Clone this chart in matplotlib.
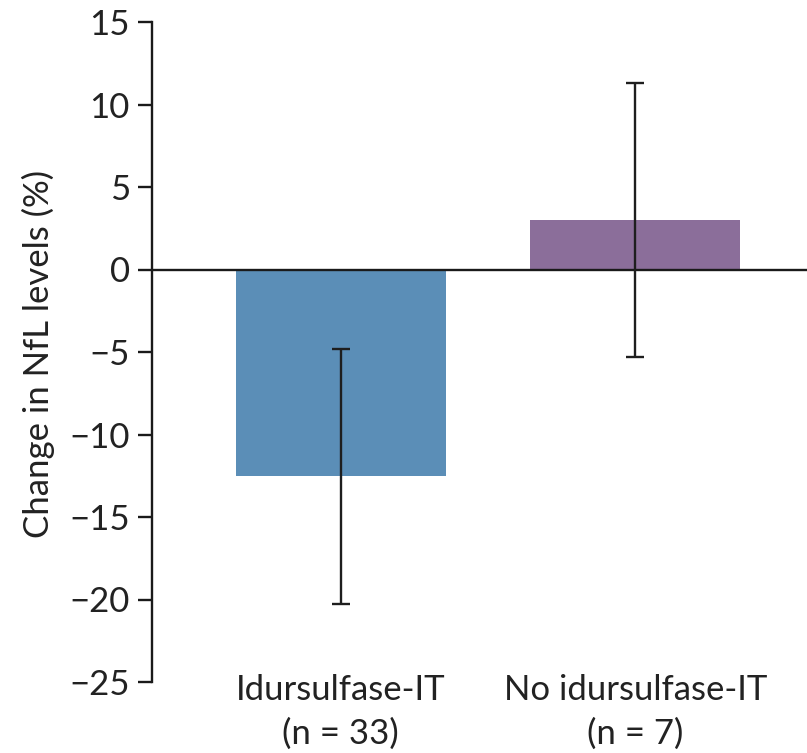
import matplotlib
matplotlib.use("Agg")
import matplotlib.pyplot as plt

# group means and interval bounds, % change in NfL
groups = ["Idursulfase-IT\n(n = 33)", "No idursulfase-IT\n(n = 7)"]
mean_change = [-12.5, 3.0]
ci_low = [-20.3, -5.3]
ci_high = [-4.8, 11.3]
bar_colors = ["#5B8EB7", "#8B6E9A"]
yticks = [15, 10, 5, 0, -5, -10, -15, -20, -25]

plt.rcParams["font.family"] = ["Lato", "DejaVu Sans"]
FS = 25
TXT = "#222222"

fig = plt.figure(figsize=(8.07, 7.53), dpi=100)
ax = fig.add_axes([152 / 807, 71 / 753, 655 / 807, 660 / 753])

x = list(range(len(groups)))
ax.bar(x, mean_change, width=0.712, color=bar_colors, zorder=1)
ax.axhline(0, color="#1a1a1a", lw=1.7, zorder=2)

yerr = [[m - lo for m, lo in zip(mean_change, ci_low)],
        [hi - m for m, hi in zip(mean_change, ci_high)]]
ax.errorbar(x, mean_change, yerr=yerr, fmt="none", ecolor="#1e1e1e",
            elinewidth=1.7, capsize=6.5, capthick=1.7, zorder=3)

ax.set_xlim(-0.640, 1.582)
ax.set_ylim(-25, 15)
ax.set_yticks(yticks)
ax.set_yticklabels([f"{v:d}".replace("-", "\u2212") for v in yticks],
                   fontsize=FS, color=TXT)
ax.tick_params(axis="y", length=10, width=1.7, pad=6, color="#1a1a1a")
ax.set_xticks([])

for side in ["top", "right", "bottom"]:
    ax.spines[side].set_visible(False)
ax.spines["left"].set_linewidth(1.7)
ax.spines["left"].set_color("#1a1a1a")

# group names under the bars, two lines each
for xi, label in zip(x, groups):
    ax.text(xi, -24.5, label, ha="center", va="top", fontsize=FS,
            color=TXT, linespacing=1.45, clip_on=False)

fig.text(38 / 807, 1 - 354 / 753, "Change in NfL levels (%)", rotation=90,
         ha="center", va="center", fontsize=FS, color=TXT)

fig.savefig("out.png", dpi=100)
